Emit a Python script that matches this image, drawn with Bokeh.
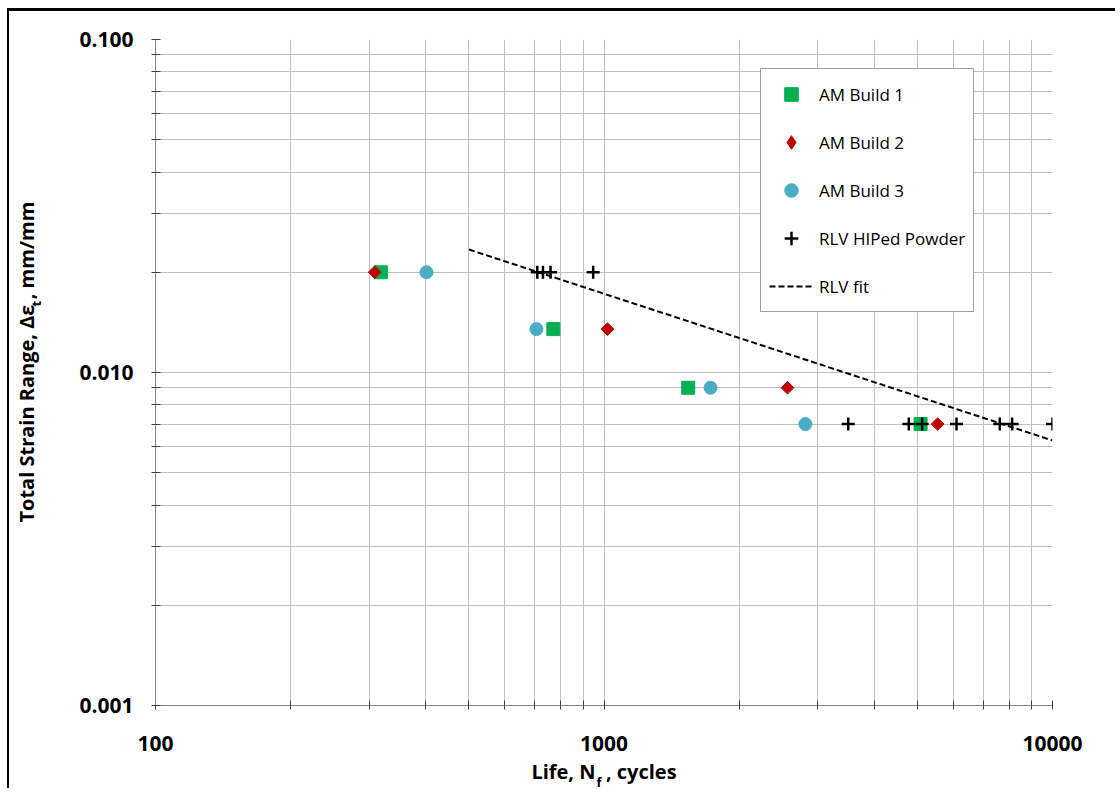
import math
from bokeh.plotting import figure
from bokeh.models import FixedTicker, Label, Legend, LegendItem, Range1d
from bokeh.embed import file_html
from bokeh.resources import INLINE

# ---------------- data ----------------
build1_life = [318, 771, 1541, 5080]
build1_strain = [0.020, 0.0135, 0.009, 0.007]
build2_life = [308, 1018, 2565, 5545]
build2_strain = [0.020, 0.0135, 0.009, 0.007]
build3_life = [402, 707, 1728, 2812]
build3_strain = [0.020, 0.0135, 0.009, 0.007]
rlv_life = [710, 731, 760, 946, 3504, 4782, 5121, 6109, 7629, 8128, 10000]
rlv_strain = [0.020, 0.020, 0.020, 0.020, 0.007, 0.007, 0.007, 0.007, 0.007, 0.007, 0.007]
fit_life = [500, 10000]
fit_strain = [0.0234, 0.00625]

x_major = [100, 1000, 10000]
x_labels = ["100", "1000", "10000"]
x_minor = [200, 300, 400, 500, 600, 700, 800, 900,
           2000, 3000, 4000, 5000, 6000, 7000, 8000, 9000]
y_major = [0.001, 0.01, 0.1]
y_labels = ["0.001", "0.010", "0.100"]
y_minor = [0.002, 0.003, 0.004, 0.005, 0.006, 0.007, 0.008, 0.009,
           0.02, 0.03, 0.04, 0.05, 0.06, 0.07, 0.08, 0.09]

series_names = ["AM Build 1", "AM Build 2", "AM Build 3", "RLV HIPed Powder", "RLV fit"]
NB = "\u00a0"
x_title = "Life, N" + NB + " , cycles"          # subscript "f" goes in the gap
x_sub = "f"
y_title = NB * 4 + "Total Strain Range, \u0394\u03b5" + NB + ", mm/mm"   # subscript "t" in the gap
y_sub = "t"

# ---------------- layout ----------------
CX, CY = 9, 11            # canvas origin on the page (after margin + border)
W, H = 1108, 780
FL, FT, FW, FH = 146, 28, 897, 666  # frame position inside canvas
X0, X1 = 100, 10000
Y0, Y1 = 0.001, 0.1

p = figure(width=W, height=H,
           x_axis_type="log", y_axis_type="log",
           x_range=Range1d(X0, X1), y_range=Range1d(Y0, Y1),
           output_backend="svg", toolbar_location=None,
           min_border_left=FL, min_border_top=FT,
           min_border_right=W - FL - FW, min_border_bottom=H - FT - FH)
p.outline_line_color = None
p.background_fill_color = "white"
p.border_fill_color = "white"
p.styles = {"margin-left": "7px", "margin-top": "8px",
            "border-left": "2px solid black", "border-top": "3px solid black"}

xt = FixedTicker(ticks=x_major, minor_ticks=x_minor)
yt = FixedTicker(ticks=y_major, minor_ticks=y_minor)
p.xaxis.ticker = xt
p.yaxis.ticker = yt
p.xgrid.ticker = xt
p.ygrid.ticker = yt
p.xaxis.major_label_overrides = dict(zip(x_major, x_labels))
p.yaxis.major_label_overrides = dict(zip(y_major, y_labels))

for g in (p.xgrid, p.ygrid):
    g.grid_line_color = "#BFBFBF"
    g.grid_line_width = 1
    g.minor_grid_line_color = "#BFBFBF"
    g.minor_grid_line_width = 1

for ax in (p.xaxis, p.yaxis):
    ax.axis_line_color = "#868686"
    ax.axis_line_width = 1
    ax.major_tick_line_color = "#404040"
    ax.minor_tick_line_color = "#404040"
    ax.major_tick_in = 5
    ax.major_tick_out = 4
    ax.minor_tick_in = 5
    ax.minor_tick_out = 4
    ax.major_label_text_font = "Open Sans"
    ax.major_label_text_font_style = "bold"
    ax.major_label_text_font_size = "21px"
    ax.major_label_text_color = "black"
    ax.axis_label_text_font = "Open Sans"
    ax.axis_label_text_font_style = "bold"
    ax.axis_label_text_font_size = "20px"
    ax.axis_label_text_color = "black"
p.xaxis.major_label_standoff = 26
p.yaxis.major_label_standoff = 18
p.xaxis.axis_label = x_title
p.yaxis.axis_label = y_title
p.xaxis.axis_label_standoff = 4
p.yaxis.axis_label_standoff = 36

# ---------------- glyphs ----------------
r_fit = p.line(fit_life, fit_strain, line_color="black", line_width=2, line_dash="6 3")
r1 = p.scatter(build1_life, build1_strain, marker="square", size=13,
               fill_color="#00B050", line_color="#00B050")
r2 = p.scatter(build2_life, build2_strain, marker="square", size=9, angle=math.pi / 4,
               fill_color="#C00000", line_color="#C00000")
r3 = p.scatter(build3_life, build3_strain, marker="circle", size=13,
               fill_color="#4BACC6", line_color="#4BACC6")
r4 = p.scatter(rlv_life, rlv_strain, marker="cross", size=13,
               line_color="black", line_width=2.5)
# legend swatch for the diamond series (legend swatches are drawn unrotated)
r2_key = p.scatter(build2_life, build2_strain, marker="diamond", size=12,
                   fill_color="#C00000", line_color="#C00000", visible=False)

legend = Legend(items=[LegendItem(label=series_names[0], renderers=[r1]),
                       LegendItem(label=series_names[1], renderers=[r2_key]),
                       LegendItem(label=series_names[2], renderers=[r3]),
                       LegendItem(label=series_names[3], renderers=[r4]),
                       LegendItem(label=series_names[4], renderers=[r_fit])],
                location=(605, 393))
legend.border_line_color = "#404040"
legend.border_line_width = 1
legend.background_fill_color = "white"
legend.background_fill_alpha = 1
legend.label_text_font = "Open Sans"
legend.label_text_font_size = "17px"
legend.label_text_color = "black"
legend.glyph_width = 44
legend.glyph_height = 34
legend.label_height = 34
legend.spacing = 14
legend.padding = 8
legend.label_standoff = 6
legend.margin = 0
legend.inactive_fill_alpha = 0
p.add_layout(legend, "center")

# ---------------- subscripts (canvas pixel units, kept in the roomy right panel) ----------------
def sub(text, px, py, align="left", angle=0.0):
    p.add_layout(Label(x=px - CX, y=py - CY, x_units="canvas", y_units="canvas",
                       text=text, text_font="Open Sans",
                       text_font_style="bold", text_font_size="13px", text_align=align,
                       text_baseline="middle", angle=angle, text_color="black"), "right")

sub(x_sub, 594, 778)
sub(y_sub, 33, 303, angle=math.pi / 2)

open("out.html", "w").write(file_html(p, INLINE))
